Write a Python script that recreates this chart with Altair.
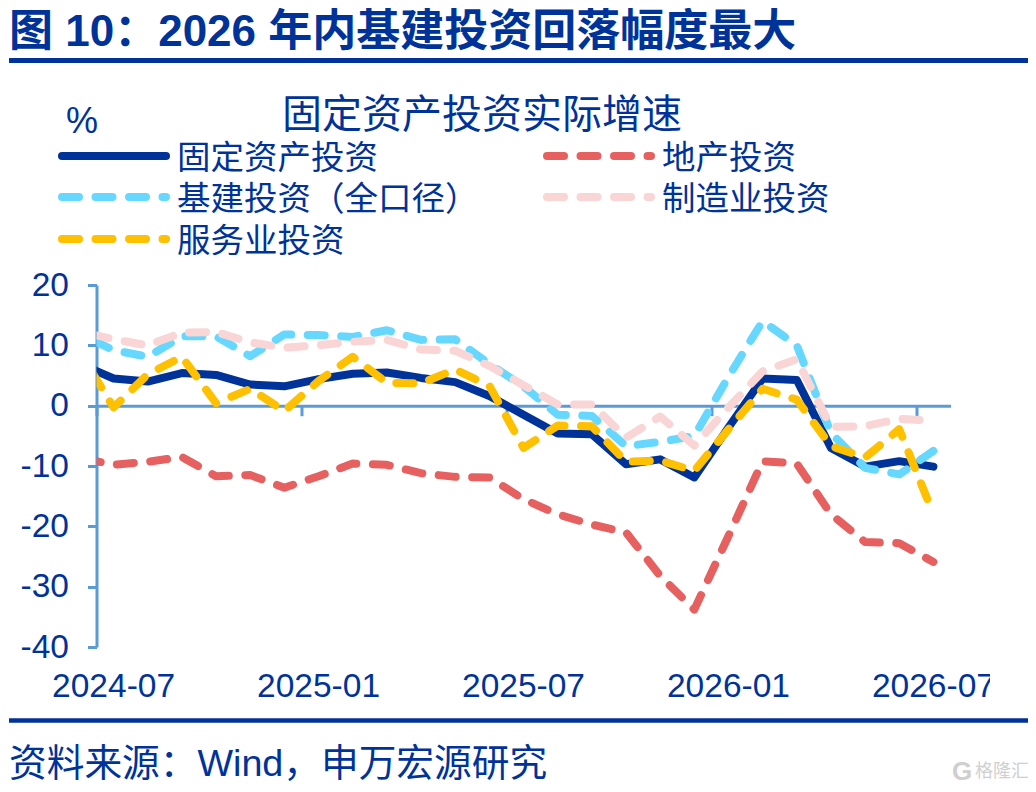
import altair as alt
import pandas as pd

# index -1 is the month before the axis starts; the reference clips it at the axis
idx = list(range(-1, 25))
fixed = [7.0, 4.5, 4.0, 5.4, 5.1, 3.5, 3.2, 4.4, 5.3, 5.5, 4.6, 3.9, 1.6, -1.5, -4.6, -4.75, -9.7, -8.9, -11.9, -3.6, 4.5, 4.25, -7.0, -10.1, -9.2, -10.1]
infra = [11.9, 9.2, 8.1, 11.5, 11.5, 8.2, 11.8, 11.7, 11.4, 12.5, 10.9, 11.0, 6.9, 3.2, -1.5, -1.7, -6.7, -6.0, -5.0, 4.8, 14.0, 10.0, -4.5, -10.3, -11.4, -7.5]
estate = [-8.6, -9.8, -9.3, -8.5, -11.7, -11.5, -13.6, -11.7, -9.6, -9.8, -11.2, -11.8, -11.9, -15.5, -18.0, -19.7, -21.0, -28.2, -33.8, -21.6, -9.2, -9.6, -18.0, -22.6, -22.8, -25.9]
manuf = [12.3, 11.0, 10.0, 12.1, 12.2, 10.5, 9.6, 10.0, 10.6, 10.9, 9.3, 9.1, 6.6, 3.4, 0.2, 0.2, -5.3, -1.8, -6.6, -0.3, 5.7, 7.7, -3.5, -3.4, -2.2, -2.5]
service = [9.0, -0.3, 5.2, 8.1, 0.4, 2.8, -0.9, 4.1, 8.1, 3.8, 3.7, 6.0, 3.3, -7.0, -3.3, -3.4, -9.3, -9.1, -10.8, -3.9, 2.8, 1.0, -6.7, -8.6, -3.9, -18.0]

tick_idx = [0, 6, 12, 18, 24]
tick_labels = ["2024-07", "2025-01", "2025-07", "2026-01", "2026-07"]

NAVY = "#003399"
RED = "#E66060"
BLUE = "#66D8FF"
PINK = "#F9D5D5"
GOLD = "#FFC000"
AXIS = "#5B9BD5"
FONT = "Liberation Sans, Noto Sans CJK SC"

L, T, W, H = 96.5, 285, 854, 362
DASH = [17, 16.5]

series = [
    ("固定资产投资", fixed, NAVY, None, 0),
    ("地产投资", estate, RED, DASH, 28.8),
    ("基建投资（全口径）", infra, BLUE, DASH, 18),
    ("制造业投资", manuf, PINK, DASH, 20.7),
    ("服务业投资", service, GOLD, DASH, 8.5),
]

xscale = alt.Scale(domain=[0, 25], nice=False, zero=False)
yscale = alt.Scale(domain=[-40, 20], nice=False, zero=False)

xaxis = alt.Axis(values=tick_idx, labels=False, title=None, grid=False, offset=-241.3,
                 domainColor=AXIS, domainWidth=3, tickColor=AXIS, tickWidth=3, tickSize=10)
yaxis = alt.Axis(values=[-40, -30, -20, -10, 0, 10, 20], title=None, grid=False,
                 domainColor=AXIS, domainWidth=3, tickColor=AXIS, tickWidth=3, tickSize=9,
                 labelPadding=19, labelFont=FONT, labelFontSize=33.5, labelColor=NAVY,
                 labelExpr="toString(datum.value)")


def abs_text(s, x, y, size, bold=False, color=NAVY, align="left"):
    return alt.Chart(pd.DataFrame({"t": [s]})).mark_text(
        font=FONT, fontSize=size, fontWeight="bold" if bold else "normal",
        color=color, align=align, baseline="middle"
    ).encode(text="t:N", x=alt.value(x - L), y=alt.value(y - T))


def abs_rule(x1, x2, y, width, color, dash=None):
    kw = {"color": color, "strokeWidth": width}
    if dash:
        kw.update(strokeDash=dash, strokeCap="round")
    elif width > 6:
        kw.update(strokeCap="round")
    return alt.Chart(pd.DataFrame({"a": [0]})).mark_rule(**kw).encode(
        x=alt.value(x1 - L), x2=alt.value(x2 - L), y=alt.value(y - T))


layers = []
for i, (name, vals, col, dash, phase) in enumerate(series):
    df = pd.DataFrame({"x": [k + 0.5 for k in idx], "v": vals})
    kw = {"color": col, "strokeWidth": 8, "clip": True, "strokeCap": "round", "strokeJoin": "round"}
    if dash:
        kw["strokeDash"] = dash
        kw["strokeDashOffset"] = phase
    layers.append(alt.Chart(df).mark_line(**kw).encode(
        x=alt.X("x:Q", scale=xscale, axis=xaxis),
        y=alt.Y("v:Q", scale=yscale, axis=yaxis),
        order="x:Q",
    ))

lab = pd.DataFrame({"x": [k + 0.5 for k in tick_idx], "t": tick_labels})
layers.append(alt.Chart(lab).mark_text(
    font=FONT, fontSize=33.5, color=NAVY, align="center", baseline="middle"
).encode(x=alt.X("x:Q", scale=xscale, axis=xaxis), y=alt.value(687 - T), text="t:N"))

# the last tick label is cut off at the chart's right edge in the reference
layers.append(alt.Chart(pd.DataFrame({"a": [0]})).mark_rect(color="white").encode(
    x=alt.value(990 - L), x2=alt.value(1005 - L), y=alt.value(660 - T), y2=alt.value(710 - T)))

# header, footer
layers += [
    abs_text("图 10：2026 年内基建投资回落幅度最大", 9, 33, 44, bold=True),
    abs_rule(9, 1036, 60.5, 5, NAVY),
    abs_text("固定资产投资实际增速", 482, 116, 40, align="center"),
    abs_text("%", 82, 122, 36, align="center"),
    abs_rule(9, 1036, 720.5, 4.5, NAVY),
    abs_text("资料来源：Wind，申万宏源研究", 9, 765, 37.7),
    abs_text("G", 962, 772, 26, bold=True, color="#CFCFCF", align="center"),
    abs_text("格隆汇", 975, 772, 18, color="#CFCFCF"),
]

# legend
legend_pos = [(58, 156), (543, 156), (58, 197), (543, 197), (58, 239)]
for (name, vals, col, dash, phase), (lx, ly) in zip(series, legend_pos):
    layers.append(abs_rule(lx + 4, lx + 108, ly, 8, col, dash))
    layers.append(abs_text(name, lx + 119, ly + 3, 33.5))

chart = alt.layer(*layers).properties(
    width=W, height=H,
    autosize=alt.AutoSizeParams(type="none"),
    padding={"left": L - 8, "top": T - 8, "right": 1020 - (L - 8) - W, "bottom": 776 - (T - 8) - H},
).configure_view(stroke=None)

chart.save("out.html", embed_options={"renderer": "svg", "actions": False})
